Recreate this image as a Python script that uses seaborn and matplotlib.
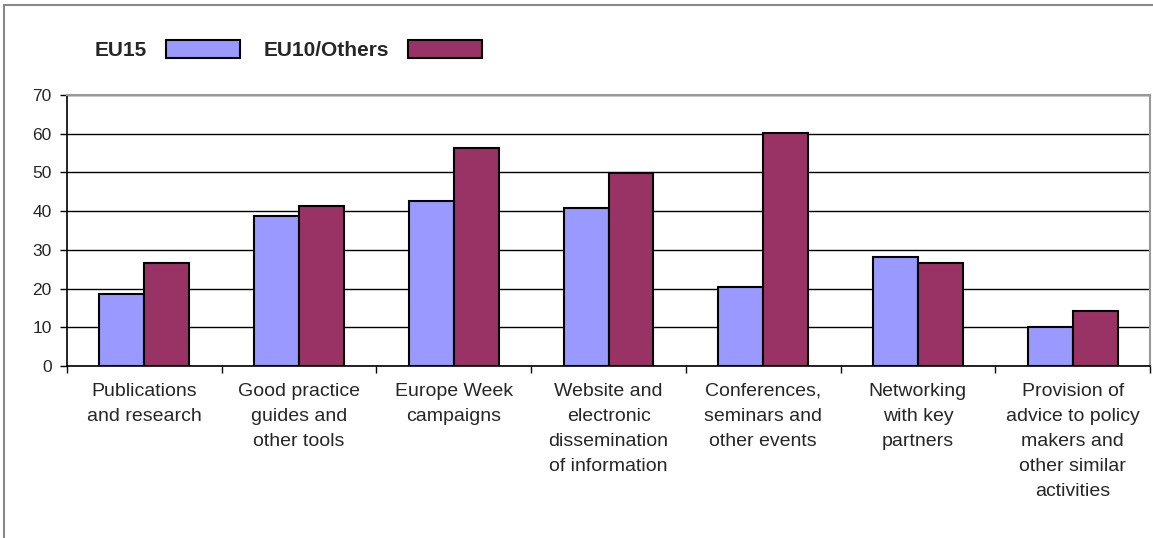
import matplotlib
matplotlib.use("Agg")
import matplotlib.pyplot as plt
import matplotlib.patches as mpatches
from matplotlib.lines import Line2D
import seaborn as sns
import pandas as pd

categories = [
    "Publications\nand research",
    "Good practice\nguides and\nother tools",
    "Europe Week\ncampaigns",
    "Website and\nelectronic\ndissemination\nof information",
    "Conferences,\nseminars and\nother events",
    "Networking\nwith key\npartners",
    "Provision of\nadvice to policy\nmakers and\nother similar\nactivities",
]
series_names = ["EU15", "EU10/Others"]
eu15 = [18.7, 38.8, 42.6, 40.9, 20.3, 28.1, 10.2]
eu10 = [26.5, 41.3, 56.3, 49.8, 60.2, 26.5, 14.1]
yticks = [0, 10, 20, 30, 40, 50, 60, 70]
colors = ["#9999FF", "#993366"]

df = pd.DataFrame({
    "category": categories * 2,
    "series": [series_names[0]] * len(categories) + [series_names[1]] * len(categories),
    "value": eu15 + eu10,
})

sns.set_theme(style="white")
plt.rcParams['font.family'] = ['Liberation Sans', 'DejaVu Sans']

fig = plt.figure(figsize=(11.53, 5.38), dpi=100)
ax = fig.add_axes([67 / 1153, 1 - 366 / 538, (1150 - 67) / 1153, (366 - 95) / 538])

sns.barplot(data=df, x="category", y="value", hue="series", palette=colors,
            saturation=1, width=0.58, edgecolor="black", linewidth=1.5, ax=ax,
            legend=False, zorder=3)

ax.set_ylim(0, 70)
ax.set_xlim(-0.5, len(categories) - 0.5)
ax.set_yticks(yticks)
ax.set_yticklabels([str(v) for v in yticks], fontsize=12.5)
ax.set_xlabel("")
ax.set_ylabel("")
ax.yaxis.grid(True, color="black", linewidth=1.0, zorder=0)
ax.set_axisbelow(True)

ax.set_xticks(range(len(categories)))
ax.set_xticklabels(categories, fontsize=14, linespacing=1.62, va="top")
ax.tick_params(axis="x", which="major", length=0, pad=12)
ax.set_xticks([i - 0.5 for i in range(len(categories) + 1)], minor=True)
ax.tick_params(axis="x", which="minor", length=5, width=1, color="black", direction="out", bottom=True)
ax.tick_params(axis="y", length=5, width=1, color="black", direction="out", left=True, pad=6)

for side in ["left", "bottom"]:
    ax.spines[side].set_color("black")
    ax.spines[side].set_linewidth(1.2)
for side in ["top", "right"]:
    ax.spines[side].set_color("#999999")
    ax.spines[side].set_linewidth(1.5)

handles = [mpatches.Patch(facecolor=c, edgecolor="black", linewidth=1.5) for c in colors]
fig.legend(handles, series_names, loc="center left", bbox_to_anchor=(95 / 1153, 1 - 50 / 538),
           ncol=2, frameon=False, markerfirst=False, handlelength=3.55, handleheight=0.95,
           handletextpad=0.9, columnspacing=1.15, borderpad=0, borderaxespad=0,
           prop={"weight": "bold", "size": 15})

# chart area border
fig.add_artist(Line2D([4 / 1153, 1.0], [1 - 5 / 538, 1 - 5 / 538], color="#888888", linewidth=1.5,
                      transform=fig.transFigure))
fig.add_artist(Line2D([4 / 1153, 4 / 1153], [0.0, 1 - 5 / 538], color="#888888", linewidth=1.5,
                      transform=fig.transFigure))

fig.savefig("out.png", dpi=100)
